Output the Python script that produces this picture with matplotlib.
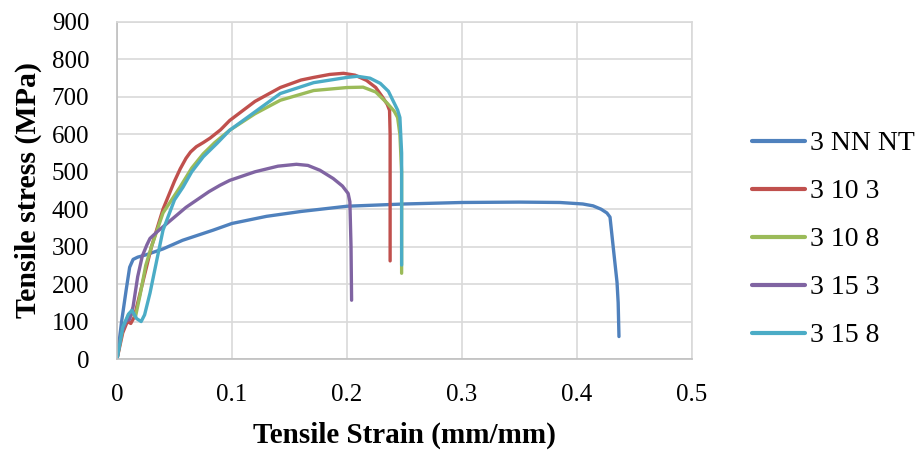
import matplotlib
matplotlib.use("Agg")
import matplotlib.pyplot as plt
from matplotlib.ticker import FuncFormatter

plt.rcParams['font.family'] = ['Liberation Serif', 'DejaVu Serif']

x_nn = [0, 0.004, 0.008, 0.011, 0.014, 0.018, 0.025, 0.04, 0.057, 0.0835, 0.1, 0.13, 0.16, 0.2, 0.25,
        0.3, 0.35, 0.385, 0.405, 0.414, 0.421, 0.426, 0.4287, 0.4318, 0.4348, 0.4358, 0.4365]
y_nn = [0, 100, 185, 245, 266, 272, 278, 294, 317, 344, 362, 381, 394, 408, 414,
        418, 419, 418, 414, 409, 400, 390, 379, 290, 205, 150, 60]

x_103 = [0, 0.005, 0.009, 0.012, 0.015, 0.02, 0.03, 0.04, 0.05, 0.055, 0.06, 0.064, 0.069, 0.075, 0.081,
         0.09, 0.098, 0.12, 0.142, 0.16, 0.171, 0.185, 0.197, 0.207, 0.217, 0.225, 0.231, 0.235,
         0.237, 0.2375, 0.2375]
y_103 = [0, 70, 100, 95, 112, 175, 300, 400, 475, 508, 536, 553, 567, 578, 590,
         612, 637, 688, 725, 745, 752, 760, 763, 758, 744, 725, 699, 680,
         664, 600, 262]

x_108 = [0, 0.005, 0.01, 0.013, 0.016, 0.02, 0.025, 0.03, 0.04, 0.0548, 0.065, 0.075, 0.085, 0.098,
         0.12, 0.142, 0.171, 0.2, 0.214, 0.225, 0.235, 0.241, 0.244, 0.246, 0.2475, 0.2475]
y_108 = [0, 80, 118, 124, 112, 170, 250, 300, 390, 459, 510, 548, 578, 611,
         655, 691, 717, 725, 726, 713, 683, 662, 645, 600, 500, 229]

x_153 = [0, 0.004, 0.008, 0.011, 0.014, 0.018, 0.022, 0.026, 0.0287, 0.035, 0.045, 0.06, 0.08, 0.0896,
         0.098, 0.12, 0.14, 0.156, 0.166, 0.1765, 0.188, 0.196, 0.201, 0.2025, 0.2035, 0.204]
y_153 = [0, 70, 102, 106, 140, 220, 275, 305, 322, 340, 366, 405, 447, 464,
         477, 500, 515, 520, 517, 504, 482, 462, 442, 420, 300, 157]

x_158 = [0, 0.005, 0.01, 0.013, 0.017, 0.021, 0.024, 0.0287, 0.035, 0.04, 0.05, 0.0574, 0.065, 0.075,
         0.087, 0.098, 0.12, 0.142, 0.171, 0.2, 0.209, 0.22, 0.229, 0.236, 0.24, 0.244, 0.246,
         0.2475, 0.2475]
y_158 = [0, 85, 120, 130, 108, 100, 118, 176, 270, 344, 425, 459, 500, 540,
         576, 611, 660, 709, 738, 752, 755, 750, 736, 715, 690, 665, 645,
         550, 251]

labels = ['3 NN NT', '3 10 3', '3 10 8', '3 15 3', '3 15 8']
colors = ['#4F81BD', '#C0504D', '#9BBB59', '#8064A2', '#4BACC6']
series = [(x_nn, y_nn), (x_103, y_103), (x_108, y_108), (x_153, y_153), (x_158, y_158)]

x_ticks = [0, 0.1, 0.2, 0.3, 0.4, 0.5]
y_ticks = [0, 100, 200, 300, 400, 500, 600, 700, 800, 900]

fig = plt.figure(figsize=(9.2, 4.5), dpi=100)
ax = fig.add_axes([117/920, 1 - 359/450, (692-117)/920, (359-22)/450])

for (xs, ys), lab, col in zip(series, labels, colors):
    ax.plot(xs, ys, color=col, lw=2.4, label=lab, solid_joinstyle='round', solid_capstyle='round')

ax.set_xlim(0, 0.5)
ax.set_ylim(0, 900)
ax.set_xticks(x_ticks)
ax.set_yticks(y_ticks)
ax.xaxis.set_major_formatter(FuncFormatter(lambda v, p: '0' if v == 0 else ('%g' % v)))
ax.grid(True, color='#d9d9d9', lw=1.2)
ax.set_axisbelow(True)
for s in ax.spines.values():
    s.set_color('#d9d9d9')
    s.set_linewidth(1.2)
ax.spines['left'].set_color('#bfbfbf')
ax.spines['bottom'].set_color('#bfbfbf')
ax.tick_params(length=0, labelsize=18)
ax.tick_params(axis='x', pad=18)
ax.tick_params(axis='y', pad=20)
ax.set_xlabel('Tensile Strain (mm/mm)', fontsize=21, fontweight='bold', labelpad=11)
ax.set_ylabel('Tensile stress (MPa)', fontsize=21.5, fontweight='bold', labelpad=7)

leg = fig.legend(loc='upper left', bbox_to_anchor=(752/920, 1 - 131/450), frameon=False,
                 fontsize=20, handlelength=1.9, labelspacing=0.81, handletextpad=0.18,
                 borderaxespad=0, borderpad=0)
for line in leg.get_lines():
    line.set_linewidth(3)

fig.savefig('out.png', dpi=100)
